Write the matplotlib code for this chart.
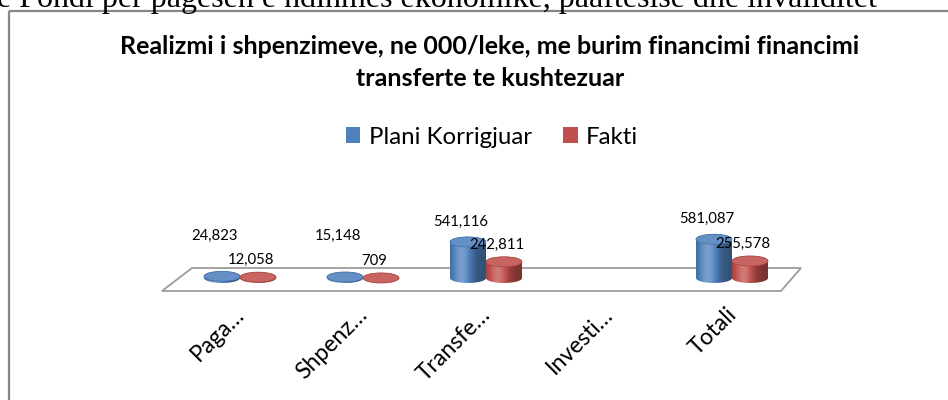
import matplotlib
matplotlib.use("Agg")
import matplotlib.pyplot as plt
import numpy as np
from matplotlib.patches import Rectangle, Ellipse, Polygon, Patch
from matplotlib.colors import to_rgb

# ---------------- data ----------------
categories = ["Paga…", "Shpenz…", "Transfe…", "Investi…", "Totali"]
plani_korrigjuar = [24823, 15148, 541116, 0, 581087]
fakti = [12058, 709, 242811, 0, 255578]
plani_labels = ["24,823", "15,148", "541,116", "", "581,087"]
fakti_labels = ["12,058", "709", "242,811", "", "255,578"]
series_names = ["Plani Korrigjuar", "Fakti"]
series_colors = ["#4F81BD", "#C0504D"]
title_lines = ["Realizmi i shpenzimeve, ne 000/leke, me burim financimi financimi",
               "transferte te kushtezuar"]
doc_text = "e Fondi per pagesen e ndihmes ekonomike, paaftesise dhe invaliditet"

FONT = ["Lato", "DejaVu Sans"]

W, H = 948, 400
fig = plt.figure(figsize=(W / 100, H / 100), dpi=100)

# background pixel-space axes (frame, floor, document text)
bg = fig.add_axes([0, 0, 1, 1])
bg.set_xlim(0, W)
bg.set_ylim(H, 0)
bg.axis("off")

# text of the document above the chart (cut off at the top, as in the source)
bg.text(-3, 7, doc_text, family=["Liberation Serif"], fontsize=23,
        va="baseline", ha="left", color="black", clip_on=False)

# chart border
bg.add_patch(Rectangle((9.5, 10.5), 960, 420, fill=False, ec="#878787", lw=1.6))

# floor of the 3D plot
floor = Polygon([(162, 291), (781, 291), (801, 268), (192, 268)], closed=True,
                fc="white", ec="#9c9c9c", lw=1.3, zorder=1)
bg.add_patch(floor)

# title
for line, ypx in zip(title_lines, [47, 78]):
    bg.text(490, ypx, line, family=FONT, fontweight="bold", fontsize=18,
            ha="center", va="center", color="black")

# ---------------- data axes ----------------
PX_LEFT, PX_RIGHT, PX_TOP, PX_BOT = 150, 820, 190, 300
BASE_PX = 278           # pixel row of value 0
CAT0_PX, CAT_STEP = 240, 123
UNITS_PER_PX = 15000.0

ax = fig.add_axes([PX_LEFT / W, 1 - PX_BOT / H, (PX_RIGHT - PX_LEFT) / W, (PX_BOT - PX_TOP) / H])
ax.set_xlim((PX_LEFT - CAT0_PX) / CAT_STEP, (PX_RIGHT - CAT0_PX) / CAT_STEP)
ax.set_ylim(-(PX_BOT - BASE_PX) * UNITS_PER_PX, (BASE_PX - PX_TOP) * UNITS_PER_PX)
ax.patch.set_alpha(0)
ax.axis("off")

half_w = 18.0 / CAT_STEP            # cylinder radius in x units
ell_b = 5.0 * UNITS_PER_PX          # ellipse semi-minor axis in value units
offsets = [-18.0 / CAT_STEP, 18.0 / CAT_STEP]
px = UNITS_PER_PX


def shade(color, f):
    c = np.array(to_rgb(color))
    if f >= 1:
        return c + (1 - c) * (f - 1)
    return c * f


def cylinder(cx, v, color, z):
    a = half_w
    t1 = np.linspace(np.pi, 2 * np.pi, 60)
    t2 = np.linspace(0, np.pi, 60)
    xs = np.concatenate([cx + a * np.cos(t1), cx + a * np.cos(t2)])
    ys = np.concatenate([ell_b * np.sin(t1), v + ell_b * np.sin(t2)])
    body = Polygon(np.column_stack([xs, ys]), closed=True, fc="none", ec="none")
    ax.add_patch(body)
    # horizontal gradient
    u = np.linspace(0, 1, 80)
    f = 0.72 + 0.55 * np.exp(-((u - 0.33) / 0.28) ** 2) - 0.1 * u
    grad = np.clip(np.array([[shade(color, fi) for fi in f]]), 0, 1)
    im = ax.imshow(grad, extent=(cx - a, cx + a, -ell_b, v + ell_b), aspect="auto",
                   zorder=z, interpolation="bilinear")
    im.set_clip_path(body)
    top = Ellipse((cx, v), 2 * a, 2 * ell_b, fc=shade(color, 1.12), ec=shade(color, 0.9),
                  lw=0.6, zorder=z + 0.1)
    ax.add_patch(top)


values = [plani_korrigjuar, fakti]
labels = [plani_labels, fakti_labels]
for s, (vals, labs) in enumerate(zip(values, labels)):
    for i, v in enumerate(vals):
        if v <= 0:
            continue
        cx = i + offsets[s]
        cylinder(cx, v, series_colors[s], 3 + s)
        if s == 0:
            ly = max(v + ell_b + 15 * px, 42 * px)
        else:
            ly = max(v + ell_b + 12 * px, 16 * px)
        ax.text(cx - 7.0 / CAT_STEP, ly, labs[i], family=FONT, fontsize=10.7,
                ha="center", va="center", zorder=10, clip_on=False)

# category labels (rotated)
for i, c in enumerate(categories):
    ax.text(i + 1.0 / CAT_STEP, -(311 - BASE_PX) * px, c, family=FONT, fontsize=16.5,
            rotation=45, rotation_mode="anchor", ha="right", va="center", clip_on=False)

# legend
handles = [Patch(fc=series_colors[k], ec="none") for k in range(2)]
fig.legend(handles, series_names, loc="center", bbox_to_anchor=(492 / W, 1 - 137 / H),
           ncol=2, frameon=False, prop={"family": FONT, "size": 17.3},
           handlelength=0.6, handleheight=0.6, handletextpad=0.35, columnspacing=1.3,
           borderpad=0.1)

fig.savefig("out.png", dpi=100)
